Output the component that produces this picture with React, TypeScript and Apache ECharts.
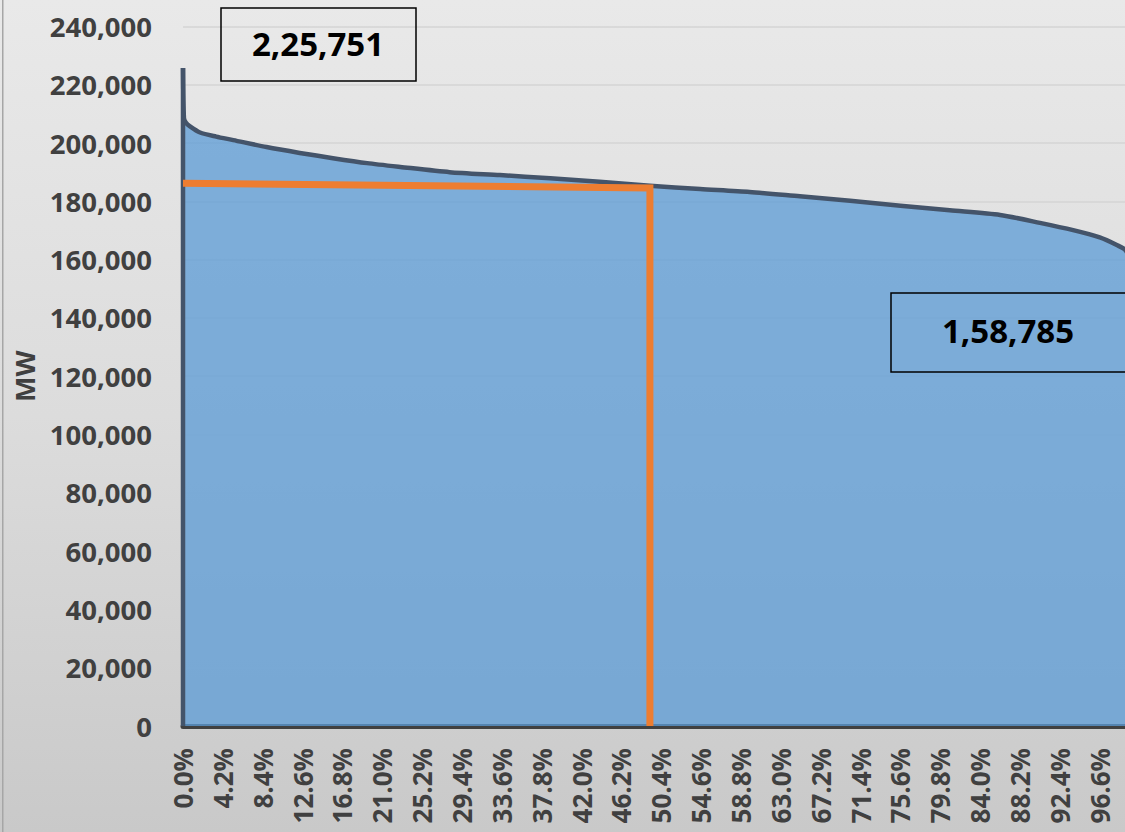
import React, { useEffect, useRef } from "react";
import * as echarts from "echarts";

// Load duration curve: share of time (%) vs load (MW)
const durationPct = [0, 0.1, 0.3, 0.7, 1.8, 3.5, 5.3, 8.8, 12.3, 15.8, 19.4, 22.9, 28.1, 33.4, 38.7, 43.9, 49.2, 54.5, 59.7, 65.0, 70.3, 75.6, 80.8, 86.1, 90.3, 93.8, 96.6, 98.4, 99.3, 100];
const loadMW = [225751, 208500, 207000, 205800, 203600, 202200, 201000, 198600, 196600, 194800, 193100, 191800, 190000, 189000, 187900, 186700, 185300, 184200, 183200, 181700, 180200, 178500, 176900, 175300, 172600, 170100, 167600, 165000, 163300, 158785];

// Left edge of the area (from axis up to the peak)
const edgePct = [0, 0];
const edgeMW = [0, 225751];

// Orange guide line (horizontal at ~median load, then down to axis)
const guidePct = [0, 49.2, 49.2];
const guideMW = [186200, 184600, 0];

const peakLabel = "2,25,751";
const minLabel = "1,58,785";
const yAxisName = "MW";

const FONT = "'Open Sans', 'DejaVu Sans', sans-serif";

export default function App() {
  const ref = useRef<HTMLDivElement>(null);
  useEffect(() => {
    if (!ref.current) return;
    const chart = echarts.init(ref.current, undefined, { renderer: "svg" });
    chart.setOption({
      animation: false,
      grid: { left: 183, top: 26.4, right: 18, bottom: 106, containLabel: false, outerBoundsMode: "none" },
      xAxis: {
        type: "value",
        min: 0,
        max: 100,
        interval: 4.2,
        axisLine: { show: true, lineStyle: { color: "#404040", width: 5 } },
        axisTick: { show: false },
        splitLine: { show: false },
        axisLabel: {
          rotate: 90,
          margin: 22,
          showMaxLabel: false,
          color: "#404040",
          fontFamily: FONT,
          fontWeight: "bold",
          fontSize: 26,
          formatter: (v: number) => v.toFixed(1) + "%",
        },
      },
      yAxis: {
        type: "value",
        min: 0,
        max: 240000,
        interval: 20000,
        name: yAxisName,
        nameLocation: "middle",
        nameGap: 145,
        nameTextStyle: { color: "#404040", fontFamily: FONT, fontWeight: "bold", fontSize: 27 },
        axisLine: { show: false },
        axisTick: { show: false },
        splitLine: { show: true, lineStyle: { color: "#d4d4d4", width: 1.5 } },
        axisLabel: {
          margin: 31,
          color: "#404040",
          fontFamily: FONT,
          fontWeight: "bold",
          fontSize: 27.5,
          formatter: (v: number) => v.toLocaleString("en-US"),
        },
      },
      series: [
        {
          type: "line",
          data: durationPct.map((p, i) => [p, loadMW[i]]),
          showSymbol: false,
          smooth: 0.25,
          lineStyle: { color: "#44546a", width: 4.5, join: "round" },
          areaStyle: { color: "#5b9bd5", opacity: 0.75 },
          z: 2,
        },
        {
          type: "line",
          data: edgePct.map((p, i) => [p, edgeMW[i]]),
          showSymbol: false,
          lineStyle: { color: "#44546a", width: 4.5 },
          z: 2,
        },
        {
          type: "line",
          data: guidePct.map((p, i) => [p, guideMW[i]]),
          showSymbol: false,
          lineStyle: { color: "#ed7d31", width: 7, join: "miter", cap: "butt" },
          z: 3,
        },
      ],
      graphic: [
        { type: "rect", shape: { x: 2, y: 0, width: 1.5, height: 832 }, style: { fill: "#a6a6a6" }, silent: true },
        {
          type: "rect",
          shape: { x: 221, y: 8, width: 195, height: 73 },
          style: { fill: "rgba(0,0,0,0)", stroke: "#000000", lineWidth: 1.5 },
          z: 10,
        },
        {
          type: "text",
          x: 318,
          y: 43,
          style: { text: peakLabel, fill: "#000000", font: `bold 33px ${FONT}`, align: "center", verticalAlign: "middle" },
          z: 11,
        },
        {
          type: "rect",
          shape: { x: 891, y: 293, width: 245, height: 79 },
          style: { fill: "rgba(0,0,0,0)", stroke: "#000000", lineWidth: 1.5 },
          z: 10,
        },
        {
          type: "text",
          x: 1008,
          y: 330,
          style: { text: minLabel, fill: "#000000", font: `bold 33px ${FONT}`, align: "center", verticalAlign: "middle" },
          z: 11,
        },
      ],
    });
    return () => chart.dispose();
  }, []);
  return (
    <div
      style={{
        position: "fixed",
        left: 0,
        top: 0,
        width: 1125,
        height: 832,
        overflow: "hidden",
        background: "linear-gradient(180deg, #e9e9e9 0%, #dcdcdc 50%, #c9c9c9 100%)",
      }}
    >
      <div ref={ref} style={{ width: 1150, height: 832 }} />
    </div>
  );
}
